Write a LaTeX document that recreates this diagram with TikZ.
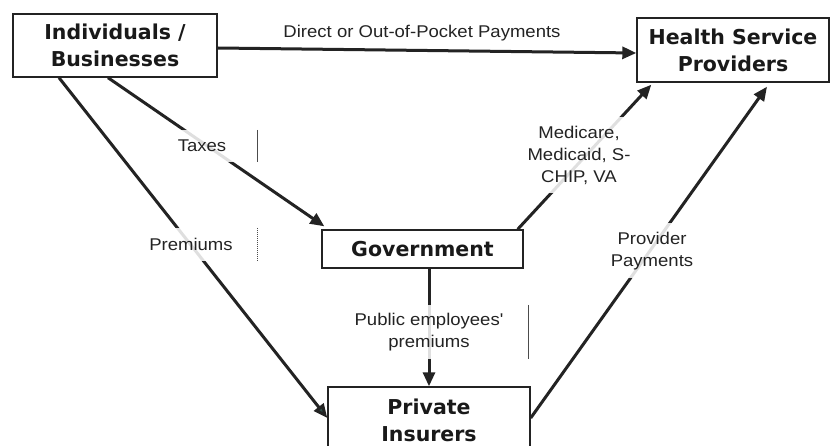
\documentclass[tikz,border=0pt]{standalone}
\usepackage{fontspec}
\usetikzlibrary{arrows.meta}
\newfontfamily\boxfont{DejaVu Sans}
\newfontfamily\labfont[FakeStretch=1.09]{Liberation Sans}
\definecolor{ink}{RGB}{35,35,35}
\definecolor{tipteal}{RGB}{45,78,72}
\tikzset{
  entity/.style={draw=ink, line width=1.4pt, fill=white, inner sep=0pt, align=center,
    font=\boxfont\bfseries\fontsize{20.5}{27}\selectfont, text=black!90},
  flow/.style={draw=ink, line width=3pt,
    -{Triangle[length=14pt, width=12pt]}},
  lab/.style={fill=white, fill opacity=0.86, text opacity=1, inner sep=0pt, align=center,
    font=\labfont\fontsize{17}{22}\selectfont, text=ink},
  bar/.style={draw=black!70, line width=1pt},
}
\begin{document}
\begin{tikzpicture}[x=1pt, y=-1pt]
\useasboundingbox (0,0) rectangle (831,446);
\fill[white] (0,0) rectangle (831,446);

% the four parties
\node[entity, minimum width=204pt, minimum height=63pt] (ind) at (115,45.5) {Individuals /\\Businesses};
\node[entity, minimum width=192pt, minimum height=64pt] (hsp) at (733,50) {Health Service\\Providers};
\node[entity, minimum width=201pt, minimum height=38pt] (gov) at (422.5,249) {Government};
\node[entity, minimum width=202pt, minimum height=66pt] (pi) at (429,420) {Private\\Insurers};

% money flows
\draw[flow] ([yshift=-2.5pt]ind.east) -- ([yshift=-3pt]hsp.west);
\draw[flow] ([xshift=-7pt]ind.south) -- ([shift={(3pt,3pt)}]gov.north west);
\draw[flow, -{Triangle[length=14pt, width=12pt, fill=tipteal]}]
  ([xshift=-56pt]ind.south) -- ([yshift=2pt]pi.west);
\draw[flow] ([xshift=-6pt]gov.north east) -- ([shift={(15pt,-2pt)}]hsp.south west);
\draw[flow] ([yshift=2pt]pi.east) -- ([shift={(34pt,-4pt)}]hsp.south);
\draw[flow] (gov.south -| pi.north) -- (pi.north);

% flow labels
\node[lab] (ldirect) at (422,33) {Direct or Out-of-Pocket Payments};
\node[lab, minimum width=110pt, minimum height=32pt] (ltax) at (202,146) {Taxes};
\node[lab, minimum width=132pt, minimum height=33pt] (lprem) at (191,244.5) {Premiums};
\node[lab, minimum width=108pt, minimum height=76pt] (lmed) at (579,155) {Medicare,\\Medicaid, S-\\CHIP, VA};
\node[lab, minimum width=96pt, minimum height=55pt] (lprov) at (652,251) {Provider\\Payments};
\node[lab, minimum width=198pt, minimum height=54pt] (lpub) at (429,332) {Public employees'\\premiums};

% text box edges
\draw[bar] (ltax.north east) -- (ltax.south east);
\draw[bar, densely dotted] (lprem.north east) -- (lprem.south east);
\draw[bar] (lpub.north east) -- (lpub.south east);
\end{tikzpicture}
\end{document}
